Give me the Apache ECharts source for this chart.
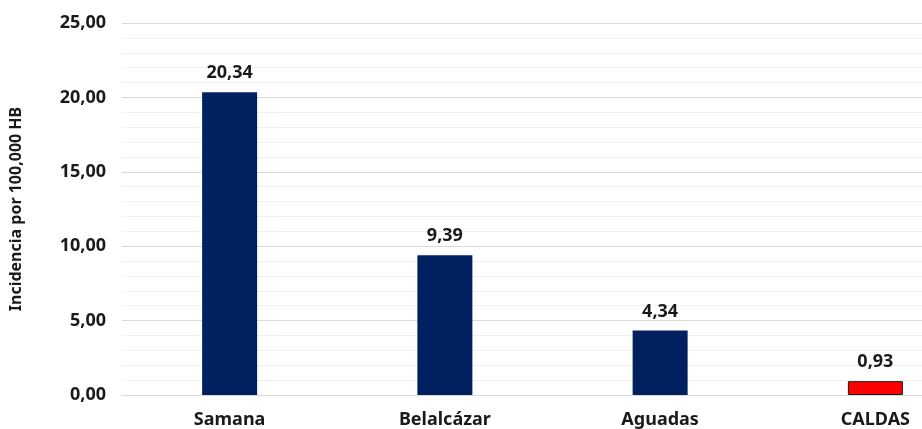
<!DOCTYPE html>
<html>
<head>
<meta charset="utf-8">
<script src="https://cdn.jsdelivr.net/npm/echarts@6/dist/echarts.min.js"></script>
<style>
html,body{margin:0;padding:0;background:#fff;overflow:hidden;width:922px;height:429px;}
#c{width:983px;height:429px;}
</style>
</head>
<body>
<div id="c"></div>
<script>
const categories = ['Samana', 'Belalcázar', 'Aguadas', 'CALDAS'];
const values = [20.34, 9.39, 4.34, 0.93];
const barColors = ['#002060', '#002060', '#002060', '#FF0000'];
const yTicks = [0, 5, 10, 15, 20, 25];
const yAxisName = 'Incidencia por 100,000 HB';

const fmt = v => v.toFixed(2).replace('.', ',');
const font = '"Noto Sans", sans-serif';

const chart = echarts.init(document.getElementById('c'), null, {renderer: 'canvas'});
chart.setOption({
  animation: false,
  backgroundColor: '#ffffff',
  grid: {left: 119, right: 0, top: 23, bottom: 32, containLabel: false},
  xAxis: {
    type: 'category',
    data: categories,
    axisLine: {show: true, lineStyle: {color: '#d9d9d9', width: 1}},
    axisTick: {show: false},
    axisLabel: {color: '#1a1a1a', fontFamily: font, fontWeight: 'bold', fontSize: 18, margin: 16}
  },
  yAxis: {
    type: 'value',
    min: yTicks[0],
    max: yTicks[yTicks.length - 1],
    interval: 5,
    name: yAxisName,
    nameLocation: 'middle',
    nameRotate: 90,
    nameGap: 98,
    nameTextStyle: {color: '#1a1a1a', fontFamily: font, fontWeight: 'bold', fontSize: 16},
    axisLine: {show: false},
    axisTick: {show: false},
    axisLabel: {color: '#1a1a1a', fontFamily: font, fontWeight: 'bold', fontSize: 18, margin: 16, formatter: fmt},
    splitLine: {show: true, lineStyle: {color: '#d9d9d9', width: 1}},
    minorTick: {show: false, splitNumber: 5},
    minorSplitLine: {show: true, lineStyle: {color: '#f0f0f0', width: 1}}
  },
  series: [{
    type: 'bar',
    data: values.map((v, i) => ({
      value: v,
      itemStyle: {color: barColors[i], borderColor: i === 3 ? '#1a1a1a' : barColors[i], borderWidth: i === 3 ? 1 : 0}
    })),
    barWidth: 55,
    label: {
      show: true,
      position: 'top',
      distance: 10,
      formatter: p => fmt(p.value),
      color: '#1a1a1a',
      fontFamily: font,
      fontWeight: 'bold',
      fontSize: 18
    }
  }]
});
</script>
</body>
</html>
